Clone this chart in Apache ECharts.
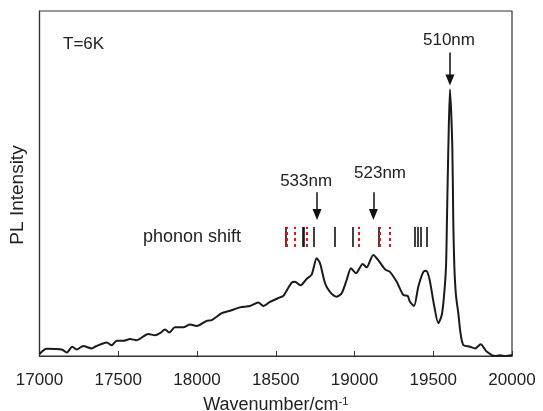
<!DOCTYPE html>
<html>
<head>
<meta charset="utf-8">
<script src="https://cdn.jsdelivr.net/npm/echarts@6/dist/echarts.min.js"></script>
<style>html,body{margin:0;padding:0;background:#fff}#c{width:543px;height:411px}</style>
</head>
<body>
<div id="c"></div>
<script>
// Spectrum (wavenumber cm^-1, relative PL intensity)
var wavenumber = [17000,17046,17141,17173,17208,17236,17278,17331,17363,17427,17458,17490,17532,17575,17617,17691,17733,17765,17797,17824,17860,17913,17956,17998,18062,18093,18157,18210,18273,18337,18389,18421,18464,18527,18548,18601,18622,18658,18697,18728,18760,18781,18813,18844,18887,18919,18950,18978,19010,19052,19077,19119,19151,19194,19225,19268,19310,19338,19352,19378,19405,19437,19454,19475,19505,19532,19554,19568,19581,19587,19596,19606,19621,19627,19634,19644,19659,19673,19691,19733,19765,19801,19839,19892,19924,19956,20000];
var intensity = [0.6,2.1,1.9,1.0,2.7,1.9,2.9,2.2,2.9,3.9,3.1,4.4,4.4,4.9,4.6,6.4,6.0,6.6,7.7,6.8,8.3,8.3,9.1,8.7,10.2,10.4,12.4,13.1,14.1,14.5,15.5,14.5,15.7,17.0,17.4,21.3,21.5,20.5,22.4,23.6,28.3,26.9,21.1,18.6,17.2,18.2,22.0,25.4,24.0,26.7,25.7,29.3,27.8,25.1,24.4,21.5,17.7,17.4,15.7,14.5,20.1,24.4,24.7,22.5,14.8,9.5,11.9,17.2,25.9,39.4,60.7,77.3,60.7,39.4,25.9,17.7,12.4,6.7,3.2,2.7,2.2,3.4,1.3,0.0,0.2,0.0,0.3];
// phonon shift markers (cm^-1)
var phononBlack = [18562,18669,18675,18741,18876,18989,19157,19380,19399,19420,19458];
var phononRed = [18568,18622,18696,19024,19162,19225];
var xTicks = {min:17000, max:20000, interval:500};
// annotations: [label, wavenumber of arrow]
var peaks = [['533nm',18762],['523nm',19120],['510nm',19606]];

var chart = echarts.init(document.getElementById('c'));
var data = wavenumber.map(function(x,i){return [x,intensity[i]];});
var LY0 = 31.6, LY1 = 37.4;
function seg(list){return list.map(function(x){return [{coord:[x,LY0]},{coord:[x,LY1]}];});}
var arrowY = {'533nm':[47.5,41.0],'523nm':[47.5,41.0],'510nm':[88.0,80.0]};
var labelPos = {'533nm':[18693,50.7],'523nm':[19162,53.0],'510nm':[19600,91.6]};
var font = '"Liberation Sans", Arial, sans-serif';
chart.setOption({
  animation:false,
  grid:{left:39.5,right:31,top:11,bottom:55,containLabel:false,outerBoundsMode:'none',show:true,borderColor:'#333',borderWidth:1.2,backgroundColor:'transparent'},
  xAxis:{type:'value',min:xTicks.min,max:xTicks.max,interval:xTicks.interval,
    axisLine:{lineStyle:{color:'#333',width:1.2}},
    axisTick:{inside:true,length:5,lineStyle:{color:'#333'}},
    splitLine:{show:false},
    axisLabel:{fontSize:17,color:'#222',margin:16,fontFamily:font,formatter:function(v){return String(v);}},
    name:'Wavenumber/cm{s|-1}',nameLocation:'middle',nameGap:40,
    nameTextStyle:{fontSize:18,color:'#222',fontFamily:font,rich:{s:{fontSize:11,verticalAlign:'top',padding:[0,0,8,0],color:'#222',fontFamily:font}}}},
  yAxis:{type:'value',min:0,max:100,axisLine:{show:true,lineStyle:{color:'#333',width:1.2}},axisTick:{show:false},axisLabel:{show:false},splitLine:{show:false}},
  graphic:[
    {type:'text',left:63,top:36,style:{text:'T=6K',fontSize:17,fill:'#222',fontFamily:font}},
    {type:'text',left:143,top:228,style:{text:'phonon shift',fontSize:18,fill:'#222',fontFamily:font}},
    {type:'text',x:18,y:195,rotation:Math.PI/2,style:{text:'PL Intensity',fontSize:19,fill:'#222',fontFamily:font,textAlign:'center',textVerticalAlign:'middle'}}
  ],
  series:[
    {type:'line',data:data,showSymbol:false,smooth:0.25,clip:true,
      lineStyle:{color:'#1a1a1a',width:2},z:3,
      markLine:{silent:true,symbol:['none','triangle'],symbolSize:[9,11],animation:false,
        label:{show:false},lineStyle:{color:'#111',width:1.5,type:'solid'},
        data:peaks.map(function(p){return [{coord:[p[1],arrowY[p[0]][0]]},{coord:[p[1],arrowY[p[0]][1]]}];})},
      markPoint:{silent:true,symbol:'circle',symbolSize:0,animation:false,
        label:{show:true,position:'inside',fontSize:17,color:'#222',fontFamily:font,formatter:function(p){return p.name;}},
        data:peaks.map(function(p){return {name:p[0],coord:labelPos[p[0]]};})}
    },
    {type:'line',data:[],markLine:{silent:true,symbol:['none','none'],animation:false,label:{show:false},
      lineStyle:{color:'#111',width:1.6,type:'solid'},data:seg(phononBlack)}},
    {type:'line',data:[],markLine:{silent:true,symbol:['none','none'],animation:false,label:{show:false},
      lineStyle:{color:'#e8101c',width:2,type:[3,3]},data:seg(phononRed)},z:4}
  ]
});
</script>
</body>
</html>
